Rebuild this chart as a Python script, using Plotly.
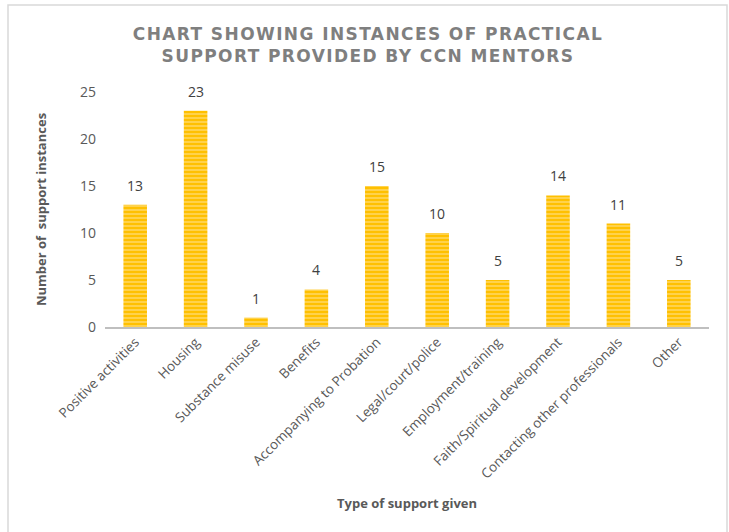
import plotly.graph_objects as go

categories = ["Positive activities", "Housing", "Substance misuse", "Benefits",
              "Accompanying to Probation", "Legal/court/police", "Employment/training",
              "Faith/Spiritual development", "Contacting other professionals", "Other"]
values = [13, 23, 1, 4, 15, 10, 5, 14, 11, 5]
y_ticks = [0, 5, 10, 15, 20, 25]
title_lines = ["CHART SHOWING INSTANCES OF PRACTICAL", "SUPPORT PROVIDED BY CCN MENTORS"]

W, H = 729, 532
L, R, T, B = 105, 20, 92, 205
pw, ph = W - L - R, H - T - B

fig = go.Figure(go.Bar(
    x=categories, y=values,
    hoverinfo="skip",
    marker=dict(color="#FFC000", line=dict(width=0),
                pattern=dict(shape="-", bgcolor="#FFC000", fgcolor="#FFE9A6",
                             size=4, solidity=0.45, fillmode="overlay")),
))

annotations = []
for c, v in zip(categories, values):
    annotations.append(dict(x=c, y=v, xref="x", yref="y", text=str(v), showarrow=False,
                            yanchor="bottom", yshift=8,
                            font=dict(family="Open Sans", size=14, color="#404040")))

fig.update_layout(
    width=W, height=H,
    margin=dict(l=L, r=R, t=T, b=B),
    paper_bgcolor="white", plot_bgcolor="white",
    bargap=0.61,
    showlegend=False,
    hovermode=False,
    annotations=annotations,
    title=dict(text="<b>" + "<br>".join(title_lines) + "</b>",
               x=368 / W, xanchor="center", y=1 - 40 / H, yanchor="middle",
               font=dict(family="DejaVu Sans", size=17, color="#7F7F7F")),
    xaxis=dict(showline=True, linecolor="#BFBFBF", linewidth=2, ticks="",
               tickangle=-45, tickfont=dict(family="Open Sans", size=13.5, color="#595959"),
               title=dict(text="<b>Type of support given</b>", standoff=17,
                          font=dict(family="Open Sans", size=13, color="#595959"))),
    yaxis=dict(range=[0, 25], tickvals=y_ticks, showgrid=False, zeroline=False,
               ticks="", showline=False, ticklabelstandoff=8,
               tickfont=dict(family="Open Sans", size=14, color="#595959"),
               title=dict(text="<b>Number of  support instances</b>", standoff=30,
                          font=dict(family="Open Sans", size=13, color="#595959"))),
    shapes=[dict(type="rect", xref="paper", yref="paper",
                 x0=(8 - L) / pw, x1=(727 - L) / pw,
                 y0=(H - 540 - B) / ph, y1=(H - 5 - B) / ph,
                 line=dict(color="#D9D9D9", width=1.5), fillcolor="rgba(0,0,0,0)", layer="below")],
)

post = ("document.body.style.margin='0';document.body.style.overflow='hidden';"
        "document.querySelectorAll('.gtitle').forEach(function(e){e.style.letterSpacing='1.4px';});")
fig.write_html("out.html", post_script=post, config={"displayModeBar": False})
